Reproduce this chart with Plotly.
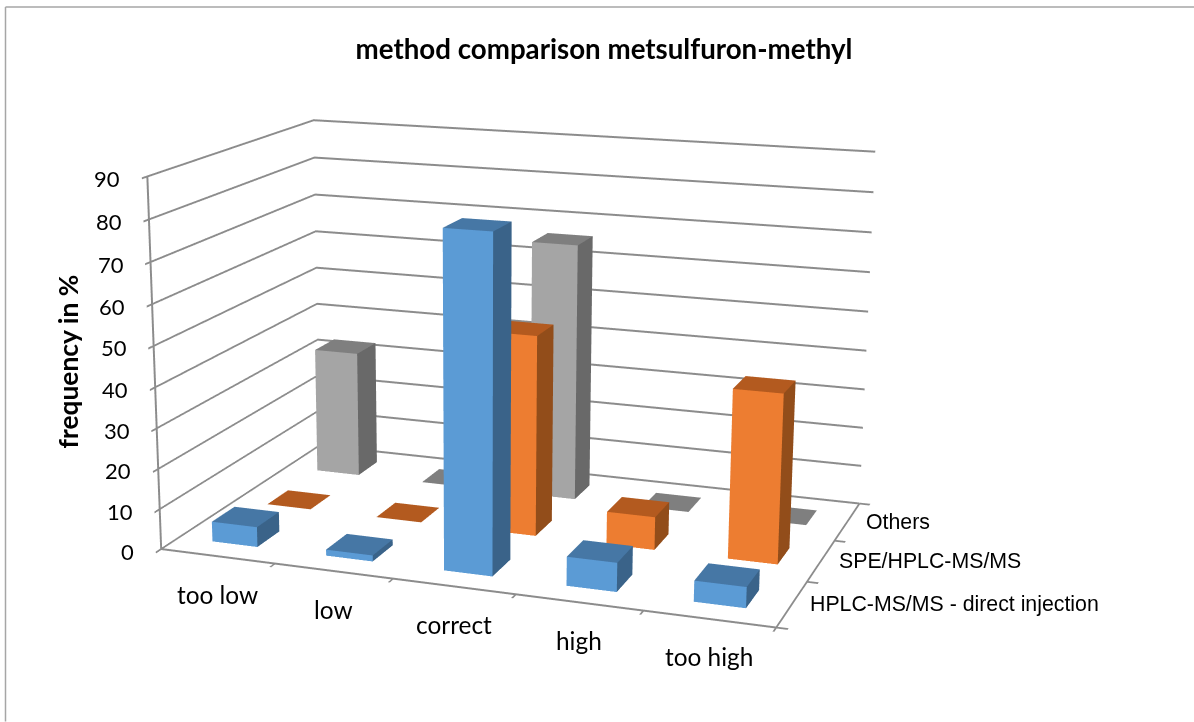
import numpy as np
import plotly.graph_objects as go

categories = ["too low", "low", "correct", "high", "too high"]
series = ["HPLC-MS/MS - direct injection", "SPE/HPLC-MS/MS", "Others"]
v_direct = [5, 1.5, 81, 7, 5]
v_spe = [0, 0, 50, 8.2, 41.5]
v_others = [33, 0, 66, 0, 0]
z_ticks = [0, 10, 20, 30, 40, 50, 60, 70, 80, 90]
front = ["#5B9BD5", "#ED7D31", "#A5A5A5"]
top = ["#4677A5", "#B35A1F", "#7F7F7F"]
side = ["#3A6389", "#924D1A", "#696969"]

# Camera calibration: solve the view so the plot box corners land where the reference has them.
W, H = 1194, 1900
box_corners_px = np.array([[162,548],[778,630],[858,503],[322,446],[146,175],[313,122],[875,153]], float)
sgn = [(-1,-1,-1),(1,-1,-1),(1,1,-1),(-1,1,-1),(-1,-1,1),(-1,1,1),(1,1,1)]


def project(p):
    f = 0.5 * H / np.tan(np.pi / 8)
    ex, ey, ez, cx, cz, ay, az, px, py = p
    eye = np.array([ex, ey, ez]); c = np.array([cx, 0, cz])
    fw = c - eye; fw /= np.linalg.norm(fw)
    r = np.cross(fw, [0, 0, 1]); r /= np.linalg.norm(r)
    u = np.cross(r, fw)
    out = []
    for s in sgn:
        q = np.array([s[0] * 0.5, s[1] * ay / 2, s[2] * az / 2]) - eye
        out.append([px + f * q.dot(r) / q.dot(fw), py - f * q.dot(u) / q.dot(fw)])
    return np.array(out)


def fit():
    k0 = H / 1700
    p = np.array([1.0 * k0, -3.17 * k0, 0.78 * k0, 0, -0.9 * k0, 0.65, 0.58, 509., H / 2 - 100.])
    lam = 1e-2
    res = lambda q: (project(q) - box_corners_px).ravel()
    for it in range(500):
        r0 = res(p); J = np.zeros((len(r0), len(p)))
        for k in range(len(p)):
            d = np.zeros(len(p)); d[k] = 1e-2 if k >= 7 else 1e-5
            J[:, k] = (res(p + d) - r0) / d[k]
        A = J.T @ J; g = J.T @ r0
        step = np.linalg.solve(A + lam * np.diag(np.diag(A)) + 1e-9 * np.eye(len(p)), -g)
        if (res(p + step) ** 2).sum() < (r0 ** 2).sum():
            p = p + step; lam = max(lam * 0.7, 1e-8)
        else:
            lam = min(lam * 3, 1e8)
    return p


ex, ey, ez, cx, cz, ay, az, PX, PY = fit()
OFF = H / 2 - PY


def yp(v):
    return 1 - (v + OFF) / H


fig = go.Figure()
WID = 0.4
for j, vals in enumerate([v_direct, v_spe, v_others]):
    xs, ys, zs, I, Jj, K, cols = [], [], [], [], [], [], []
    for i, v in enumerate(vals):
        x0, x1 = i + 0.5 - WID / 2, i + 0.5 + WID / 2
        y0, y1 = j + 0.5 - WID / 2, j + 0.5 + WID / 2
        n = len(xs)
        xs += [x0, x1, x1, x0, x0, x1, x1, x0]
        ys += [y0, y0, y1, y1, y0, y0, y1, y1]
        zs += [0, 0, 0, 0, v, v, v, v]
        faces = [((4, 5, 6), top[j]), ((4, 6, 7), top[j])]
        if v > 0:
            faces += [((0, 1, 5), front[j]), ((0, 5, 4), front[j]), ((1, 2, 6), side[j]), ((1, 6, 5), side[j])]
        for t, c in faces:
            I.append(n + t[0]); Jj.append(n + t[1]); K.append(n + t[2]); cols.append(c)
    fig.add_trace(go.Mesh3d(x=xs, y=ys, z=zs, i=I, j=Jj, k=K, facecolor=cols, flatshading=True, name=series[j],
                            lighting=dict(ambient=1, diffuse=0, specular=0, roughness=1, fresnel=0), hoverinfo="skip"))

lc = "#8C8C8C"
ann = []
for i, c in enumerate(categories):
    ann.append(dict(x=i + 0.5, y=0, z=0, text=c, showarrow=False, yshift=-38, xanchor="center", yanchor="middle",
                    font=dict(family="Lato", size=24.4, color="black")))
for j, s in enumerate(series):
    ann.append(dict(x=5, y=j + 0.5, z=0, text=s, showarrow=False, xshift=16, xanchor="left", yanchor="middle",
                    font=dict(family="Liberation Sans", size=21.3, color="black")))
for z in z_ticks:
    ann.append(dict(x=0, y=0, z=z, text=str(z), showarrow=False, xshift=-25, yshift=-2, xanchor="right", yanchor="middle",
                    font=dict(family="Lato", size=22, color="black")))
fig.add_annotation(text="<b>frequency in %</b>", x=68 / W, y=yp(362), xref="paper", yref="paper", showarrow=False,
                   textangle=-90, xanchor="center", yanchor="middle", font=dict(family="Lato", size=26.4, color="black"))
fig.add_shape(type="line", xref="paper", yref="paper", x0=5.5 / W, x1=1, y0=yp(7.5), y1=yp(7.5), line=dict(color="#A6A6A6", width=1.5))
fig.add_shape(type="line", xref="paper", yref="paper", x0=5.5 / W, x1=5.5 / W, y0=yp(7.5), y1=yp(722), line=dict(color="#A6A6A6", width=1.5))

tk = dict(showbackground=False, showspikes=False, showticklabels=False, ticks="outside", ticklen=9, tickwidth=4,
          tickcolor=lc, showline=True, linecolor=lc, linewidth=4, zeroline=False, title="")
dom = [0, 2 * PX / W] if PX <= W / 2 else [2 * PX / W - 1, 1]
fig.update_layout(width=W, height=H, margin=dict(l=0, r=0, t=0, b=0), paper_bgcolor="white",
    title=dict(text="<b>method comparison metsulfuron-methyl</b>", x=604 / W, xanchor="center", y=yp(50), yanchor="middle",
               font=dict(family="Lato", size=27.7, color="black")),
    scene=dict(domain=dict(x=dom, y=[0, 1]), dragmode="orbit",
        xaxis=dict(range=[0, 5], showgrid=False, tickvals=[0, 1, 2, 3, 4, 5], **tk),
        yaxis=dict(range=[0, 3], showgrid=False, tickvals=[0, 1, 2, 3], **tk),
        zaxis=dict(range=[0, 90], showgrid=True, gridcolor=lc, gridwidth=4, tickvals=z_ticks, **tk),
        aspectmode="manual", aspectratio=dict(x=1, y=float(ay), z=float(az)), annotations=ann,
        camera=dict(eye=dict(x=float(ex), y=float(ey), z=float(ez)), center=dict(x=float(cx), y=0, z=float(cz)), up=dict(x=0, y=0, z=1))))
fig.write_html("out.html", config=dict(displayModeBar=False),
               post_script="document.body.style.margin='0';document.body.style.marginTop='%dpx';document.body.style.overflow='hidden';document.documentElement.style.overflow='hidden';" % (-round(OFF)))
